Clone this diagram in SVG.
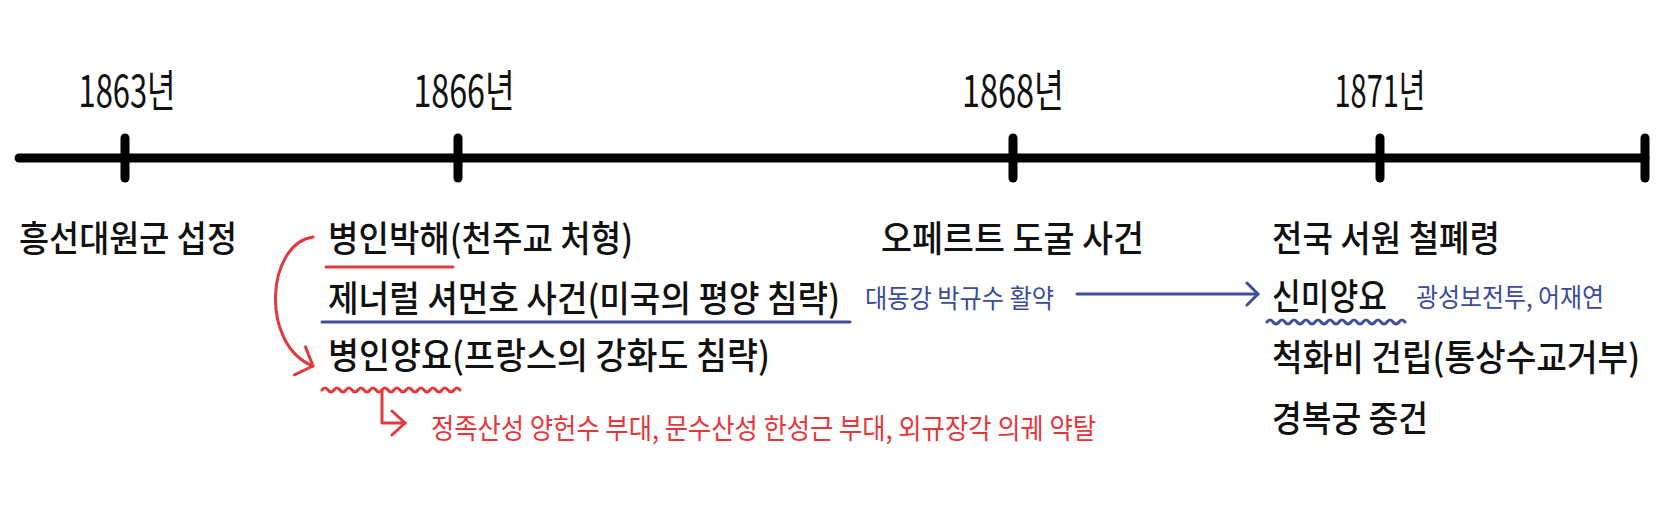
<svg xmlns="http://www.w3.org/2000/svg" width="1671" height="516" viewBox="0 0 1671 516">
  <style>
    text { font-family: "Noto Sans CJK KR", "Noto Sans", sans-serif; }
    .main { font-size: 36px; font-weight: 500; fill: #111; }
    .year { font-size: 44px; font-weight: 400; fill: #111; text-anchor: middle; }
    .blue { font-size: 26px; font-weight: 400; fill: #3a4b9c; }
    .red { font-size: 28px; font-weight: 400; fill: #e8353a; }
    .axis { stroke: #000; stroke-width: 9; stroke-linecap: round; fill: none; }
    .redline { stroke: #e03a3e; stroke-width: 3; fill: none; stroke-linecap: round; stroke-linejoin: round; }
    .blueline { stroke: #3f4f9e; stroke-width: 3; fill: none; stroke-linecap: round; stroke-linejoin: round; }
  </style>
  <defs>
    <marker id="chevRed" markerUnits="userSpaceOnUse" viewBox="-2 -2 19 34" refX="14" refY="15" markerWidth="19" markerHeight="34" orient="auto">
      <path d="M0,0 L14,15 L0,30" fill="none" stroke="#e03a3e" stroke-width="3" stroke-linecap="round" stroke-linejoin="round"/>
    </marker>
    <marker id="chevRedSm" markerUnits="userSpaceOnUse" viewBox="-2 -2 18 28" refX="13" refY="12" markerWidth="18" markerHeight="28" orient="auto">
      <path d="M0,0 L13,12 L0,24" fill="none" stroke="#e03a3e" stroke-width="3" stroke-linecap="round" stroke-linejoin="round"/>
    </marker>
    <marker id="chevBlue" markerUnits="userSpaceOnUse" viewBox="-2 -2 16 26" refX="11" refY="11" markerWidth="16" markerHeight="26" orient="auto">
      <path d="M0,0 L11,11 L0,22" fill="none" stroke="#3f4f9e" stroke-width="3" stroke-linecap="round" stroke-linejoin="round"/>
    </marker>
  </defs>

  <rect width="1671" height="516" fill="#fff"/>

  <g id="timeline">
    <line class="axis" x1="19" y1="158" x2="1645" y2="158"/>
    <line class="axis" x1="125" y1="138" x2="125" y2="178"/>
    <line class="axis" x1="458" y1="138" x2="458" y2="178"/>
    <line class="axis" x1="1013" y1="138" x2="1013" y2="178"/>
    <line class="axis" x1="1380" y1="138" x2="1380" y2="178"/>
    <line class="axis" x1="1645" y1="138" x2="1645" y2="178"/>
  </g>

  <g id="year-1863"><text class="year" x="127" y="107" textLength="97" lengthAdjust="spacingAndGlyphs">1863년</text></g>
  <g id="year-1866"><text class="year" x="464" y="107" textLength="101" lengthAdjust="spacingAndGlyphs">1866년</text></g>
  <g id="year-1868"><text class="year" x="1013" y="107" textLength="102" lengthAdjust="spacingAndGlyphs">1868년</text></g>
  <g id="year-1871"><text class="year" x="1380" y="107" textLength="91" lengthAdjust="spacingAndGlyphs">1871년</text></g>

  <g id="ev-1863">
    <text class="main" x="19" y="252" textLength="218" lengthAdjust="spacingAndGlyphs">흥선대원군 섭정</text>
  </g>

  <g id="ev-byeongin-bakhae">
    <text class="main" x="328" y="252" textLength="305" lengthAdjust="spacingAndGlyphs">병인박해(천주교 처형)</text>
    <line class="redline" x1="326" y1="267" x2="453" y2="267"/>
  </g>

  <g id="ev-sherman">
    <text class="main" x="328" y="312" textLength="512" lengthAdjust="spacingAndGlyphs">제너럴 셔먼호 사건(미국의 평양 침략)</text>
    <line class="blueline" x1="322" y1="322" x2="850" y2="322"/>
  </g>

  <g id="note-park">
    <text class="blue" x="865" y="308" textLength="189" lengthAdjust="spacingAndGlyphs">대동강 박규수 활약</text>
  </g>

  <g id="ev-byeongin-yangyo">
    <text class="main" x="328" y="369" textLength="442" lengthAdjust="spacingAndGlyphs">병인양요(프랑스의 강화도 침략)</text>
    <path class="redline" d="M322,390 q3,-4 6,0 t6,0 t6,0 t6,0 t6,0 t6,0 t6,0 t6,0 t6,0 t6,0 t6,0 t6,0 t6,0 t6,0 t6,0 t6,0 t6,0 t6,0 t6,0 t6,0 t6,0 t6,0 t6,0"/>
  </g>

  <g id="note-yangyo">
    <text class="red" x="431" y="439" textLength="665" lengthAdjust="spacingAndGlyphs">정족산성 양헌수 부대, 문수산성 한성근 부대, 외규장각 의궤 약탈</text>
  </g>

  <g id="ev-oppert">
    <text class="main" x="881" y="252" textLength="263" lengthAdjust="spacingAndGlyphs">오페르트 도굴 사건</text>
  </g>

  <g id="ev-seowon">
    <text class="main" x="1272" y="252" textLength="228" lengthAdjust="spacingAndGlyphs">전국 서원 철폐령</text>
  </g>

  <g id="ev-sinmi">
    <text class="main" x="1272" y="310" textLength="115" lengthAdjust="spacingAndGlyphs">신미양요</text>
    <path class="blueline" d="M1267,322 q3,-4 6,0 t6,0 t6,0 t6,0 t6,0 t6,0 t6,0 t6,0 t6,0 t6,0 t6,0 t6,0 t6,0 t6,0 t6,0 t6,0 t6,0 t6,0 t6,0 t6,0 t6,0 t6,0 t6,0"/>
  </g>

  <g id="note-sinmi">
    <text class="blue" x="1416" y="307" textLength="188" lengthAdjust="spacingAndGlyphs">광성보전투, 어재연</text>
  </g>

  <g id="ev-cheokhwa">
    <text class="main" x="1272" y="371" textLength="368" lengthAdjust="spacingAndGlyphs">척화비 건립(통상수교거부)</text>
  </g>

  <g id="ev-gyeongbok">
    <text class="main" x="1272" y="432" textLength="156" lengthAdjust="spacingAndGlyphs">경복궁 중건</text>
  </g>

  <g id="connectors">
    <path class="redline" d="M313,237 C266,244 260,345 313,366" marker-end="url(#chevRed)"/>
    <path class="redline" d="M382,391 L382,423 L405,423" marker-end="url(#chevRedSm)"/>
    <line class="blueline" x1="1077" y1="294" x2="1258" y2="294" marker-end="url(#chevBlue)"/>
  </g>
</svg>
